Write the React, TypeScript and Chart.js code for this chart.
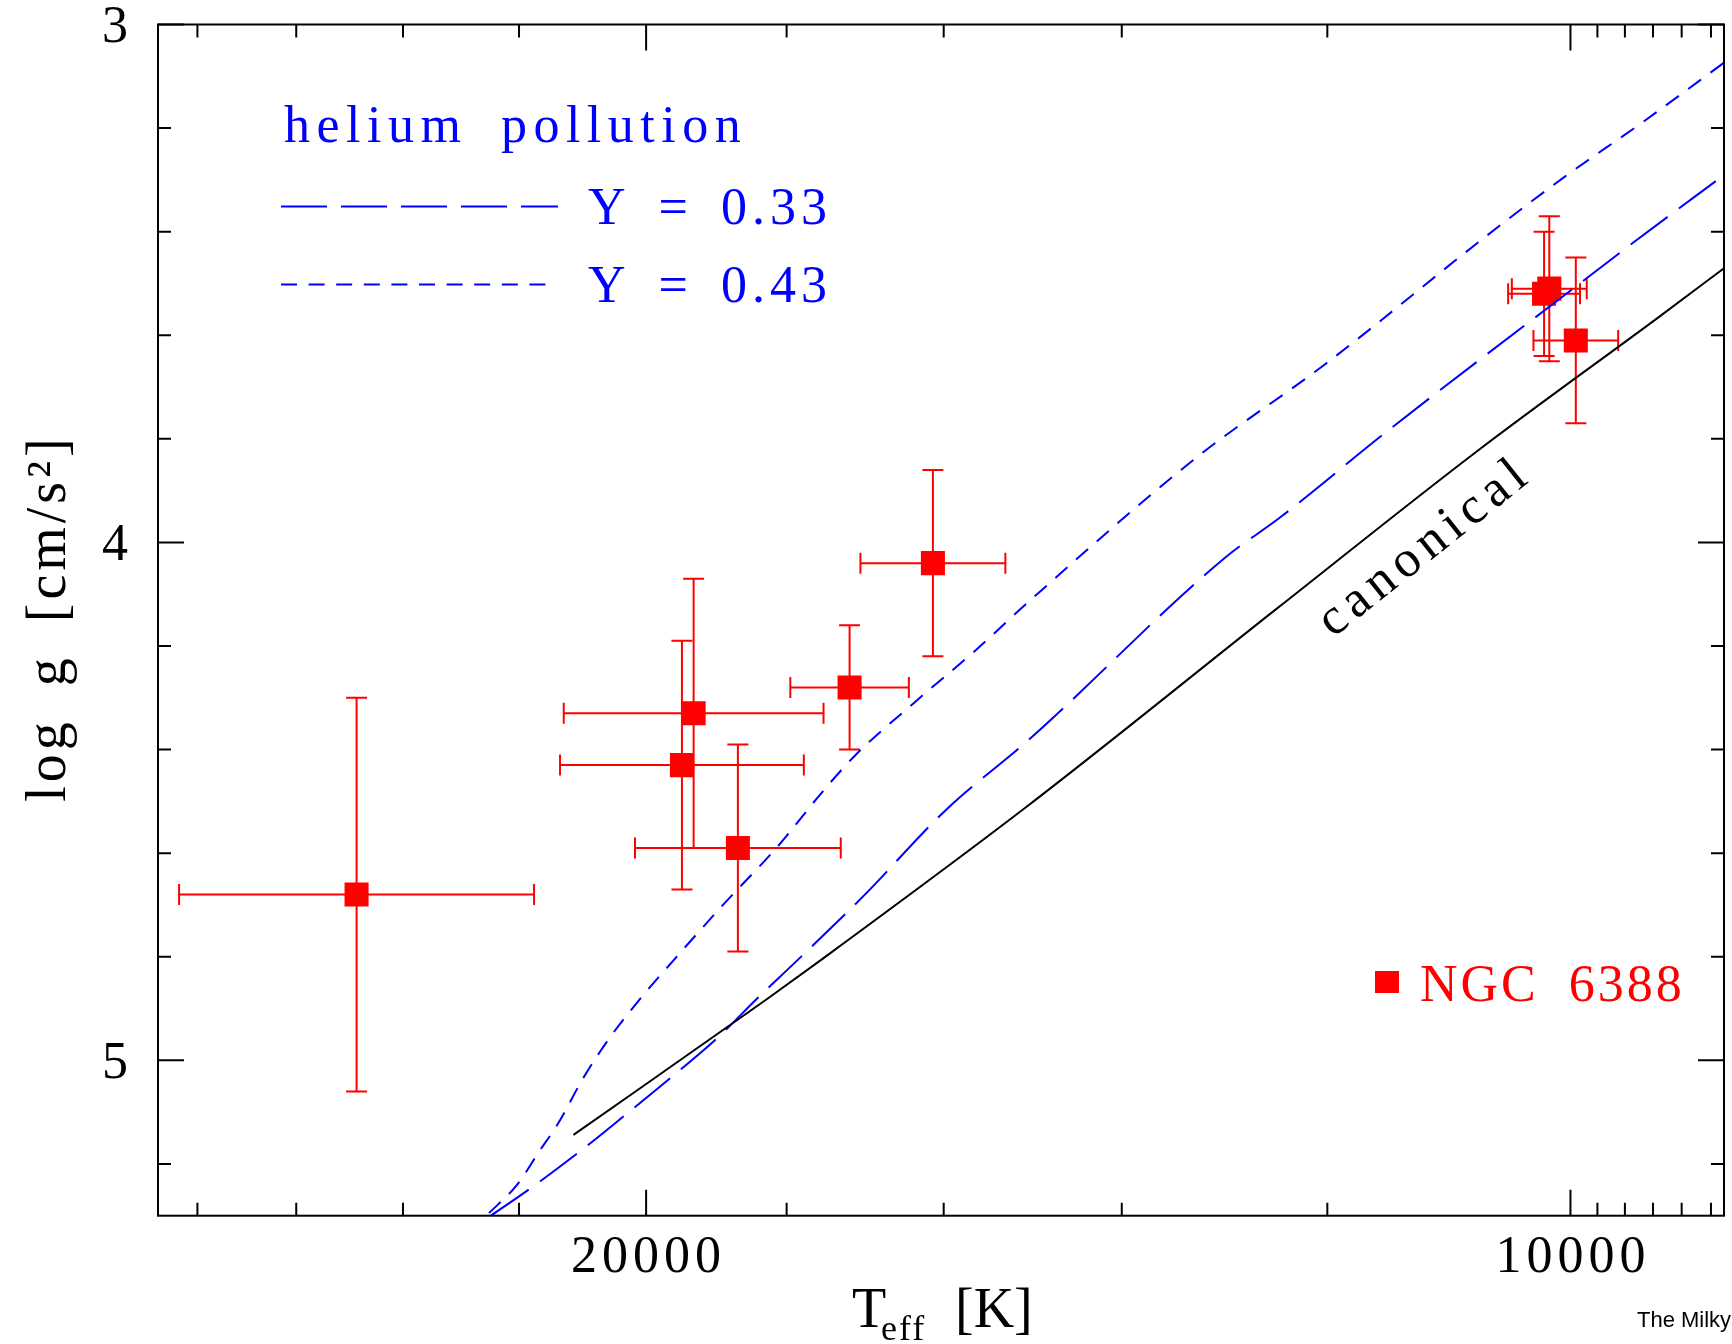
import React, { useEffect, useRef } from "react";
import { Chart, registerables } from "chart.js";

Chart.register(...registerables);

// ---------- data ----------
// canonical ZAHB
const canonicalTeff = [21120, 18280, 17540, 15010, 12440, 10710, 9350, 8900];
const canonicalLogg = [5.144, 4.883, 4.806, 4.507, 4.124, 3.821, 3.563, 3.468];

// helium pollution Y = 0.33 (long dashes)
const y33Teff = [22470, 21810, 21030, 20310, 19610, 18930, 18420, 17850, 17000, 15970, 15010, 12960, 12440, 11460, 9880, 9530, 8900];
const y33Logg = [5.3, 5.247, 5.177, 5.105, 5.031, 4.953, 4.883, 4.806, 4.684, 4.516, 4.381, 4.03, 3.953, 3.783, 3.49, 3.419, 3.288];

// helium pollution Y = 0.43 (short dashes)
const y43Teff = [22500, 22030, 21670, 21380, 20950, 20540, 20100, 19480, 18860, 18120, 17520, 17090, 16340, 15620, 15010, 13230, 12020, 10670, 10060, 9470, 8900];
const y43Logg = [5.295, 5.24, 5.176, 5.125, 5.031, 4.954, 4.883, 4.79, 4.697, 4.587, 4.481, 4.41, 4.307, 4.208, 4.114, 3.835, 3.656, 3.412, 3.297, 3.188, 3.071];

// NGC 6388 stars
const ngcTeff = [24850, 16130, 17170, 19300, 19470, 18670, 10200, 10160, 9960];
const ngcTeffErrDex = [0.0578, 0.0236, 0.0193, 0.0423, 0.0397, 0.0335, 0.0117, 0.0122, 0.0138];
const ngcLogg = [4.68, 4.04, 4.28, 4.33, 4.43, 4.59, 3.52, 3.51, 3.61];
const ngcLoggErr = [0.38, 0.18, 0.12, 0.26, 0.24, 0.2, 0.12, 0.14, 0.16];

// axes
const xMin = 8912.5;
const xMax = 28840;
const yMin = 3;
const yMax = 5.3;
const xMajorTicks = [20000, 10000];
const xMajorLabels = ["20000", "10000"];
const xMinorTicks = [28000, 26000, 24000, 22000, 18000, 16000, 14000, 12000, 9800, 9600, 9400, 9200, 9000];
const yMajorTicks = [3, 4, 5];
const yMajorLabels = ["3", "4", "5"];
const yMinorTicks = [3.2, 3.4, 3.6, 3.8, 4.2, 4.4, 4.6, 4.8, 5.2];

const seriesLabels = ["canonical", "Y = 0.33", "Y = 0.43", "NGC 6388"];
const legendTitle = "helium pollution";
const canonicalLabelPos = { teff: 11100, logg: 4.034 };

const RED = "#ff0000";
const BLUE = "#0000ff";
const SERIF = '"Liberation Serif", "Times New Roman", serif';

function toXY(t: number[], g: number[]) {
  return t.map((v, i) => ({ x: v, y: g[i] }));
}

function drawText(
  ctx: CanvasRenderingContext2D,
  s: string,
  x: number,
  y: number,
  size: number,
  color: string,
  align: CanvasTextAlign = "left",
  ls = 5,
  ws = 14,
  family = SERIF
) {
  ctx.save();
  ctx.font = `${size}px ${family}`;
  ctx.fillStyle = color;
  ctx.textAlign = align;
  ctx.textBaseline = "alphabetic";
  (ctx as any).letterSpacing = ls + "px";
  (ctx as any).wordSpacing = ws + "px";
  let dx = 0;
  if (align === "center") dx = ls / 2;
  if (align === "right") dx = ls;
  ctx.fillText(s, x + dx, y);
  ctx.restore();
}

const errorBarPlugin = {
  id: "errorBars",
  beforeDatasetsDraw(chart: any) {
    const { ctx, chartArea: a } = chart;
    const xs = chart.scales.x;
    const ys = chart.scales.y;
    ctx.save();
    ctx.beginPath();
    ctx.rect(a.left, a.top, a.right - a.left, a.bottom - a.top);
    ctx.clip();
    ctx.strokeStyle = RED;
    ctx.lineWidth = 2;
    const cap = 10.5;
    ngcTeff.forEach((t, i) => {
      const px = xs.getPixelForValue(t);
      const py = ys.getPixelForValue(ngcLogg[i]);
      const xLo = xs.getPixelForValue(t * Math.pow(10, -ngcTeffErrDex[i]));
      const xHi = xs.getPixelForValue(t * Math.pow(10, ngcTeffErrDex[i]));
      const yLo = ys.getPixelForValue(ngcLogg[i] - ngcLoggErr[i]);
      const yHi = ys.getPixelForValue(ngcLogg[i] + ngcLoggErr[i]);
      ctx.beginPath();
      ctx.moveTo(xLo, py);
      ctx.lineTo(xHi, py);
      ctx.moveTo(xLo, py - cap);
      ctx.lineTo(xLo, py + cap);
      ctx.moveTo(xHi, py - cap);
      ctx.lineTo(xHi, py + cap);
      ctx.moveTo(px, yLo);
      ctx.lineTo(px, yHi);
      ctx.moveTo(px - cap, yLo);
      ctx.lineTo(px + cap, yLo);
      ctx.moveTo(px - cap, yHi);
      ctx.lineTo(px + cap, yHi);
      ctx.stroke();
    });
    ctx.restore();
  },
};

const framePlugin = {
  id: "pgFrame",
  afterDraw(chart: any) {
    const { ctx, chartArea: a } = chart;
    const xs = chart.scales.x;
    const ys = chart.scales.y;
    ctx.save();
    ctx.strokeStyle = "#000";
    ctx.lineWidth = 2;
    ctx.strokeRect(a.left, a.top, a.right - a.left, a.bottom - a.top);

    const xTick = (v: number, len: number) => {
      const p = xs.getPixelForValue(v);
      if (p < a.left || p > a.right) return;
      ctx.beginPath();
      ctx.moveTo(p, a.bottom);
      ctx.lineTo(p, a.bottom - len);
      ctx.moveTo(p, a.top);
      ctx.lineTo(p, a.top + len);
      ctx.stroke();
    };
    const yTick = (v: number, len: number) => {
      const p = ys.getPixelForValue(v);
      if (p < a.top - 1 || p > a.bottom + 1) return;
      ctx.beginPath();
      ctx.moveTo(a.left, p);
      ctx.lineTo(a.left + len, p);
      ctx.moveTo(a.right, p);
      ctx.lineTo(a.right - len, p);
      ctx.stroke();
    };
    xMajorTicks.forEach((v) => xTick(v, 26));
    xMinorTicks.forEach((v) => xTick(v, 13));
    yMajorTicks.forEach((v) => yTick(v, 26));
    yMinorTicks.forEach((v) => yTick(v, 13));
    ctx.restore();

    // tick labels
    xMajorTicks.forEach((v, i) => {
      drawText(ctx, xMajorLabels[i], xs.getPixelForValue(v), a.bottom + 56.5, 52, "#000", "center");
    });
    yMajorTicks.forEach((v, i) => {
      drawText(ctx, yMajorLabels[i], a.left - 30, ys.getPixelForValue(v) + 17.5, 52, "#000", "right");
    });

    // x-axis title: T_eff [K]
    const cx = (a.left + a.right) / 2;
    const x0 = cx - 89;
    drawText(ctx, "T", x0, a.bottom + 111, 56, "#000", "left", 0);
    drawText(ctx, "eff", x0 + 29, a.bottom + 124, 36, "#000", "left", 2);
    drawText(ctx, "[K]", x0 + 103, a.bottom + 111, 56, "#000", "left", 0);

    // y-axis title
    ctx.save();
    ctx.translate(65, (a.top + a.bottom) / 2);
    ctx.rotate(-Math.PI / 2);
    drawText(ctx, "log g [cm/s²]", 0, 0, 56, "#000", "center", 4, 14);
    ctx.restore();

    // legend: helium pollution
    drawText(ctx, legendTitle, 284, 141.5, 52, BLUE, "left", 6.5, 14);
    ctx.save();
    ctx.strokeStyle = BLUE;
    ctx.lineWidth = 2;
    ctx.setLineDash([46, 14]);
    ctx.beginPath();
    ctx.moveTo(281, 206.5);
    ctx.lineTo(558, 206.5);
    ctx.stroke();
    ctx.setLineDash([16, 11.6]);
    ctx.beginPath();
    ctx.moveTo(281, 284.5);
    ctx.lineTo(557, 284.5);
    ctx.stroke();
    ctx.restore();
    drawText(ctx, seriesLabels[1], 588, 223.5, 52, BLUE, "left", 5, 10);
    drawText(ctx, seriesLabels[2], 588, 301.7, 52, BLUE, "left", 5, 10);

    // legend: NGC 6388
    ctx.save();
    ctx.fillStyle = RED;
    ctx.fillRect(1375, 971, 24, 22);
    ctx.restore();
    drawText(ctx, seriesLabels[3], 1420, 1001, 52, RED, "left", 3, 14);

    // canonical label along the curve
    const lx = xs.getPixelForValue(canonicalLabelPos.teff);
    const ly = ys.getPixelForValue(canonicalLabelPos.logg);
    ctx.save();
    ctx.translate(lx, ly);
    ctx.rotate((-38.5 * Math.PI) / 180);
    drawText(ctx, seriesLabels[0], 0, 0, 52, "#000", "center", 6.5, 14);
    ctx.restore();

    // watermark
    drawText(ctx, "The Milky", 1637, 1327, 22, "#000", "left", 0, 0, '"Liberation Sans", Arial, sans-serif');
  },
};

export default function App() {
  const ref = useRef<HTMLCanvasElement>(null);

  useEffect(() => {
    const canvas = ref.current;
    if (!canvas) return;
    const chart = new Chart(canvas, {
      type: "scatter",
      data: {
        datasets: [
          {
            type: "line",
            label: seriesLabels[0],
            data: toXY(canonicalTeff, canonicalLogg),
            borderColor: "#000",
            borderWidth: 2,
            pointRadius: 0,
            fill: false,
            cubicInterpolationMode: "monotone",
            order: 0,
          },
          {
            type: "line",
            label: seriesLabels[1],
            data: toXY(y33Teff, y33Logg),
            borderColor: BLUE,
            borderWidth: 2,
            borderDash: [46, 14],
            pointRadius: 0,
            fill: false,
            cubicInterpolationMode: "monotone",
            order: 0,
          },
          {
            type: "line",
            label: seriesLabels[2],
            data: toXY(y43Teff, y43Logg),
            borderColor: BLUE,
            borderWidth: 2,
            borderDash: [16, 11.6],
            pointRadius: 0,
            fill: false,
            cubicInterpolationMode: "monotone",
            order: 0,
          },
          {
            type: "scatter",
            label: seriesLabels[3],
            data: toXY(ngcTeff, ngcLogg),
            pointStyle: "rect",
            pointRadius: 17,
            pointBorderWidth: 0,
            backgroundColor: RED,
            borderColor: RED,
            order: 1,
          },
        ] as any,
      },
      options: {
        responsive: false,
        animation: false,
        events: [],
        layout: { autoPadding: false, padding: { left: 158, top: 24.5, right: 8, bottom: 128.3 } },
        plugins: {
          legend: { display: false },
          tooltip: { enabled: false },
          title: { display: false },
        },
        scales: {
          x: { type: "logarithmic", min: xMin, max: xMax, reverse: true, display: false },
          y: { type: "linear", min: yMin, max: yMax, reverse: true, display: false },
        },
      } as any,
      plugins: [errorBarPlugin, framePlugin],
    });
    return () => chart.destroy();
  }, []);

  return (
    <div style={{ position: "absolute", left: 0, top: 0, width: 1732, height: 1344, background: "#fff" }}>
      <canvas ref={ref} width={1732} height={1344} style={{ display: "block" }} />
    </div>
  );
}
